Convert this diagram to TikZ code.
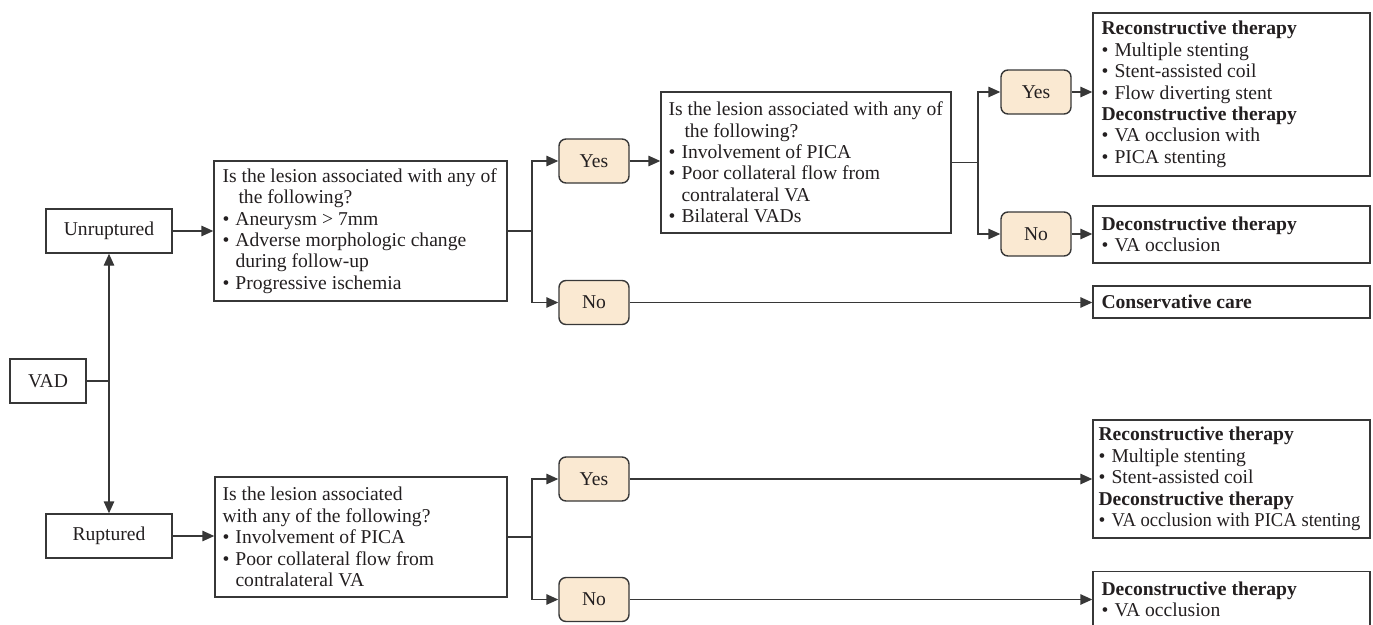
\documentclass[tikz,border=0pt]{standalone}
\usepackage{fontspec}
\setmainfont{Liberation Serif}
\usetikzlibrary{arrows.meta}
\definecolor{ln}{RGB}{55,55,55}
\definecolor{yn}{RGB}{250,233,210}
\definecolor{tx}{RGB}{35,31,32}
\newcommand{\bul}{\makebox[13pt][l]{•}}
\newcommand{\ind}[1][13pt]{\hspace*{#1}}
\begin{document}
\begin{tikzpicture}[x=1pt,y=-1pt,
  fnt/.style={font=\fontsize{19.6}{21.4}\selectfont},
  box/.style={draw=ln, line width=1.4pt, inner sep=0pt, text=tx, fnt},
  ans/.style={draw=ln, line width=1.4pt, fill=yn, rounded corners=7pt, minimum width=70pt, minimum height=44pt, inner sep=0pt, text=tx, fnt},
  txt/.style={anchor=west, align=left, inner sep=0pt, text=tx, fnt},
  con/.style={draw=ln, line width=1.4pt},
  arr/.style={draw=ln, line width=1.4pt, -{Triangle[length=12pt,width=10.5pt]}}]
\useasboundingbox (0,0) rectangle (1373,624);

% left column
\node[box, minimum width=76pt, minimum height=44pt] (VAD) at (48,381) {VAD};
\node[box, minimum width=126pt, minimum height=44pt] (Unr) at (109,231) {Unruptured};
\node[box, minimum width=126pt, minimum height=44pt] (Rup) at (109,536) {Ruptured};

% questions
\node[box, minimum width=293pt, minimum height=140pt] (Q1) at (360.5,231) {};
\node[txt] (Q1t) at ([xshift=9pt]Q1.west) {Is the lesion associated with any of\\\ind[16pt]the following?\\\bul Aneurysm > 7mm\\\bul Adverse morphologic change\\\ind during follow-up\\\bul Progressive ischemia};

\node[box, minimum width=290pt, minimum height=141pt] (Q2) at (806,162.5) {};
\node[txt] (Q2t) at ([xshift=8pt]Q2.west) {Is the lesion associated with any of\\\ind[16pt]the following?\\\bul Involvement of PICA\\\bul Poor collateral flow from\\\ind contralateral VA\\\bul Bilateral VADs};

\node[box, minimum width=292pt, minimum height=120pt] (Q3) at (361,537) {};
\node[txt] (Q3t) at ([xshift=8pt]Q3.west) {Is the lesion associated\\with any of the following?\\\bul Involvement of PICA\\\bul Poor collateral flow from\\\ind contralateral VA};

% yes / no
\node[ans] (Y1) at (594,161) {Yes};
\node[ans] (N1) at (594,302.5) {No};
\node[ans] (Y2) at (1036,92) {Yes};
\node[ans] (N2) at (1036,234) {No};
\node[ans] (Y3) at (594,479) {Yes};
\node[ans] (N3) at (594,599.5) {No};

% outcomes
\node[box, minimum width=277pt, minimum height=163pt] (R1) at (1231.5,94.5) {};
\node[txt] (R1t) at ([xshift=9pt]R1.west) {\textbf{Reconstructive therapy}\\\bul Multiple stenting\\\bul Stent-assisted coil\\\bul Flow diverting stent\\\textbf{Deconstructive therapy}\\\bul VA occlusion with\\\bul PICA stenting};

\node[box, minimum width=277pt, minimum height=57pt] (D1) at (1231.5,234.5) {};
\node[txt] (D1t) at ([xshift=9pt]D1.west) {\textbf{Deconstructive therapy}\\\bul VA occlusion};

\node[box, minimum width=277pt, minimum height=32pt] (CC) at (1231.5,302) {};
\node[txt] (CCt) at ([xshift=9pt]CC.west) {\textbf{Conservative care}};

\node[box, minimum width=277pt, minimum height=118pt] (R3) at (1231.5,479) {};
\node[txt] (R3t) at ([xshift=6pt]R3.west) {\textbf{Reconstructive therapy}\\\bul Multiple stenting\\\bul Stent-assisted coil\\\textbf{Deconstructive therapy}\\\bul\scalebox{0.95}[1]{VA occlusion with PICA stenting}};

\node[box, minimum width=277pt, minimum height=56pt] (D3) at (1231.5,599.5) {};
\node[txt] (D3t) at ([xshift=9pt]D3.west) {\textbf{Deconstructive therapy}\\\bul VA occlusion};

% connectors
\coordinate (j0) at (Unr.south |- VAD.east);
\draw[con] (VAD.east) -- (j0);
\draw[arr] (j0) -- (Unr.south);
\draw[arr] (j0) -- (Rup.north);
\draw[arr] (Unr.east) -- (Unr.east -| Q1.west);
\draw[arr] (Rup.east) -- (Rup.east -| Q3.west);

\coordinate (b1) at (532,231);
\draw[con] (Q1.east) -- (b1);
\draw[arr] (b1) |- (Y1.west);
\draw[arr] (b1) |- (N1.west);
\draw[arr] (Y1.east) -- (Y1.east -| Q2.west);
\draw[arr] (N1.east) -- (N1.east -| CC.west);

\coordinate (b2) at (978,162.5);
\draw[con] (Q2.east) -- (b2);
\draw[arr] (b2) |- (Y2.west);
\draw[arr] (b2) |- (N2.west);
\draw[arr] (Y2.east) -- (Y2.east -| R1.west);
\draw[arr] (N2.east) -- (N2.east -| D1.west);

\coordinate (b3) at (532,537);
\draw[con] (Q3.east) -- (b3);
\draw[arr] (b3) |- (Y3.west);
\draw[arr] (b3) |- (N3.west);
\draw[arr] (Y3.east) -- (Y3.east -| R3.west);
\draw[arr] (N3.east) -- (N3.east -| D3.west);
\end{tikzpicture}
\end{document}
